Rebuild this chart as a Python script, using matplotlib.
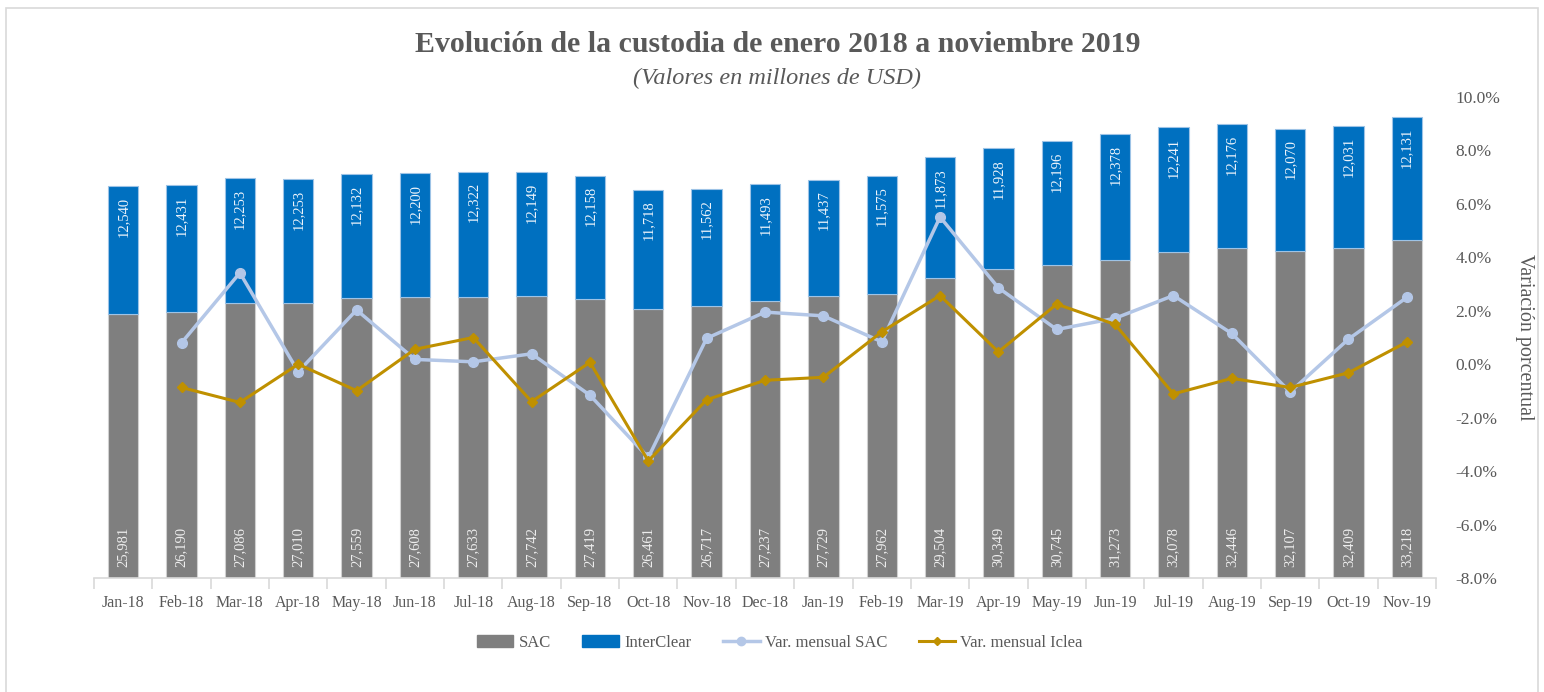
import matplotlib
matplotlib.use("Agg")
import matplotlib.pyplot as plt
import numpy as np
from matplotlib.patches import Rectangle
from matplotlib.lines import Line2D
from matplotlib.ticker import FuncFormatter, FixedLocator

plt.rcParams['font.family'] = ['Liberation Serif', 'DejaVu Serif']

months = ["Jan-18", "Feb-18", "Mar-18", "Apr-18", "May-18", "Jun-18", "Jul-18",
          "Aug-18", "Sep-18", "Oct-18", "Nov-18", "Dec-18", "Jan-19", "Feb-19",
          "Mar-19", "Apr-19", "May-19", "Jun-19", "Jul-19", "Aug-19", "Sep-19",
          "Oct-19", "Nov-19"]
sac = [25981, 26190, 27086, 27010, 27559, 27608, 27633, 27742, 27419, 26461,
       26717, 27237, 27729, 27962, 29504, 30349, 30745, 31273, 32078, 32446,
       32107, 32409, 33218]
interclear = [12540, 12431, 12253, 12253, 12132, 12200, 12322, 12149, 12158,
              11718, 11562, 11493, 11437, 11575, 11873, 11928, 12196, 12378,
              12241, 12176, 12070, 12031, 12131]
var_sac = [None, 0.80, 3.42, -0.28, 2.03, 0.18, 0.09, 0.39, -1.16, -3.49, 0.97,
           1.95, 1.81, 0.84, 5.51, 2.86, 1.30, 1.72, 2.57, 1.15, -1.04, 0.94, 2.50]
var_iclea = [None, -0.87, -1.43, 0.00, -0.99, 0.56, 1.00, -1.40, 0.07, -3.62,
             -1.33, -0.60, -0.49, 1.21, 2.57, 0.46, 2.25, 1.49, -1.11, -0.53,
             -0.87, -0.32, 0.83]
pct_ticks = [-8, -6, -4, -2, 0, 2, 4, 6, 8, 10]

C_SAC = "#7f7f7f"
C_IC = "#0070c0"
C_VSAC = "#b4c7e7"
C_VIC = "#bf9000"
TXT = "#595959"

fig = plt.figure(figsize=(15.44, 6.92), dpi=100)
fig.patches.append(Rectangle((6/1544, -0.01), (1538-6)/1544, (692-8)/692 + 0.01,
                             transform=fig.transFigure, fill=False,
                             edgecolor="#d9d9d9", linewidth=1.2))

ax = fig.add_axes([94/1544, 1-578/692, (1436-94)/1544, (578-97)/692])
x = np.arange(len(months))
w = 0.52
ax.bar(x, sac, width=w, color=C_SAC, edgecolor="#d0d0d0", linewidth=0.8, zorder=2)
ax.bar(x, interclear, width=w, bottom=sac, color=C_IC, edgecolor="#9dc3e6",
       linewidth=0.8, zorder=2)
ax.set_xlim(-0.5, len(months) - 0.5)
ax.set_ylim(0, 47300)
ax.set_yticks([])
for s in ["top", "left", "right"]:
    ax.spines[s].set_visible(False)
ax.spines["bottom"].set_color("#d9d9d9")
ax.spines["bottom"].set_linewidth(1.2)
ax.set_xticks(x)
ax.set_xticklabels(months, fontsize=11.5, color=TXT)
ax.tick_params(axis="x", length=0, pad=12)
ax.xaxis.set_minor_locator(FixedLocator(np.arange(-0.5, len(months), 1.0)))
ax.tick_params(axis="x", which="minor", length=8, color="#d9d9d9", width=1.2)

for i in range(len(months)):
    ax.text(x[i], 1050, f"{sac[i]:,}", rotation=90, ha="center", va="bottom",
            color="#eeeeee", fontsize=10.5, zorder=5)
    ax.text(x[i], sac[i] + interclear[i] - 1050, f"{interclear[i]:,}", rotation=90,
            ha="center", va="top", color="#eef4fb", fontsize=10.5, zorder=5)

ax2 = ax.twinx()
xs = x[1:]
ax2.plot(xs, var_sac[1:], color=C_VSAC, linewidth=2.5, marker="o", markersize=7,
         zorder=4)
ax2.plot(xs, var_iclea[1:], color=C_VIC, linewidth=2.2, marker="D", markersize=5,
         zorder=5)
ax2.set_ylim(-8, 10)
ax2.set_yticks(pct_ticks)
ax2.yaxis.set_major_formatter(FuncFormatter(lambda v, p: f"{v:.1f}%"))
ax2.tick_params(axis="y", length=0, pad=14, labelsize=12.5, labelcolor=TXT)
for s in ["top", "left", "right", "bottom"]:
    ax2.spines[s].set_visible(False)
ax2.set_ylabel("Variación porcentual", rotation=270, fontsize=14.5, color=TXT,
               labelpad=24)

fig.text(0.5035, 1 - 44/692, "Evolución de la custodia de enero 2018 a noviembre 2019",
         ha="center", va="center", fontsize=21.5, fontweight="bold", color=TXT)
fig.text(0.5035, 1 - 78/692, "(Valores en millones de USD)", ha="center",
         va="center", fontsize=17.5, fontstyle="italic", color=TXT)

handles = [
    Rectangle((0, 0), 1, 1, color=C_SAC),
    Rectangle((0, 0), 1, 1, color=C_IC),
    Line2D([], [], color=C_VSAC, linewidth=2.5, marker="o", markersize=6),
    Line2D([], [], color=C_VIC, linewidth=2.2, marker="D", markersize=4.5),
]
labels = ["SAC", "InterClear", "Var. mensual SAC", "Var. mensual Iclea"]
fig.legend(handles, labels, loc="center", bbox_to_anchor=(0.505, 1 - 643/692),
           ncol=4, frameon=False, fontsize=12, labelcolor=TXT,
           handlelength=2.2, handletextpad=0.3, columnspacing=1.9)

fig.savefig("out.png", dpi=100)
